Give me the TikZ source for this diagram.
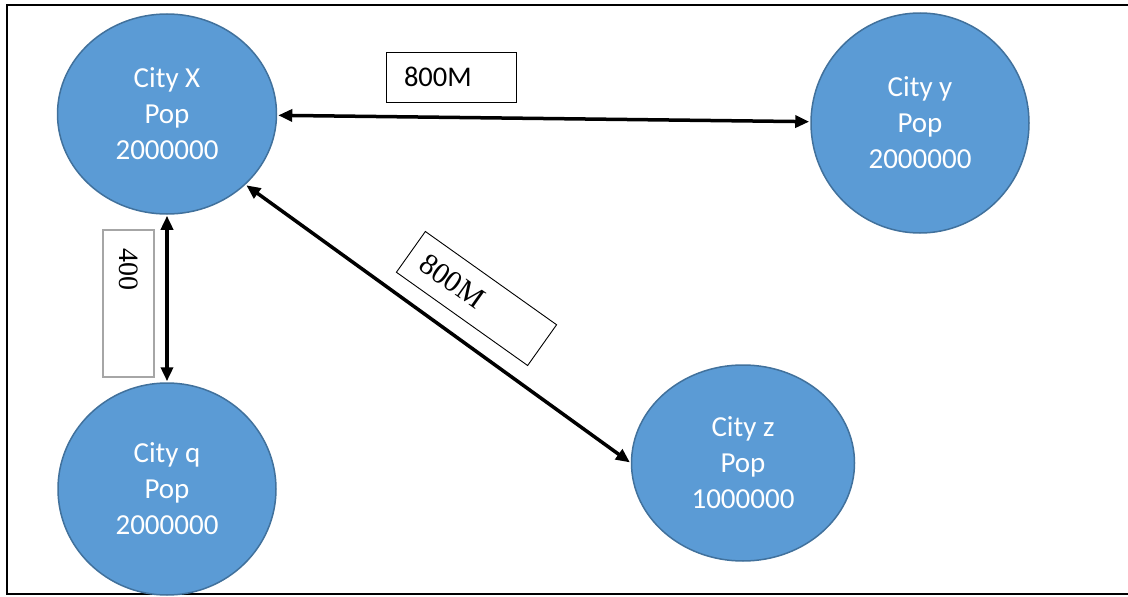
\documentclass[tikz,border=0pt]{standalone}
\usepackage{fontspec}
\setmainfont{Carlito}
\newfontfamily\serifrm{Liberation Serif}
\usetikzlibrary{shapes.geometric,arrows.meta}
\definecolor{cityfill}{HTML}{5B9BD5}
\definecolor{cityedge}{HTML}{41719C}
\definecolor{boxgrey}{HTML}{A6A6A6}
\begin{document}
\begin{tikzpicture}[x=1pt,y=-1pt,
  city/.style={ellipse,draw=cityedge,line width=1.5pt,fill=cityfill,
    text=white,inner sep=0pt,align=center,
    font=\fontsize{29}{36}\selectfont},
  link/.style={line width=3.5pt,{Triangle[length=14pt,width=12pt]}-{Triangle[length=14pt,width=12pt]},shorten <=1pt,shorten >=1pt},
  tag/.style={draw=black,line width=0.9pt,fill=white,inner ysep=0pt,align=left}
]
\useasboundingbox (0,0) rectangle (1128,597);
% outer frame (open on the right)
\draw[line width=2pt] (1130,5) -- (7,5) -- (7,594) -- (1130,594);

% cities
\node[city,minimum width=219pt,minimum height=200pt] (X) at (167,114) {City X\\Pop\\2000000};
\node[city,minimum width=218pt,minimum height=220pt] (Y) at (920,123) {City y\\Pop\\2000000};
\node[city,minimum width=218pt,minimum height=212pt] (Q) at (167,489) {City q\\Pop\\2000000};
\node[city,minimum width=223pt,minimum height=196pt] (Z) at (743,463) {City z\\Pop\\1000000};

% connections
\draw[link] (X) -- (Y);
\draw[link] (X) -- (Q);
\draw[link] (X.-42) -- (Z.180);

% distance labels
\node[tag,minimum height=50pt,text width=94pt,inner xsep=18pt,
  font=\fontsize{28.5}{30}\selectfont] (dXY) at (451,77) {800M};
\node[tag,minimum height=50pt,text width=131pt,inner xsep=15pt,rotate=-35.4,
  font=\serifrm\fontsize{30}{32}\selectfont] (dXZ) at (476.5,298.5) {800M};
\node[tag,draw=boxgrey,line width=2pt,minimum height=51pt,text width=111pt,inner xsep=18pt,rotate=-90,
  font=\serifrm\fontsize{28}{30}\selectfont] (dXQ) at (128.5,303.5) {400};
\end{tikzpicture}
\end{document}
